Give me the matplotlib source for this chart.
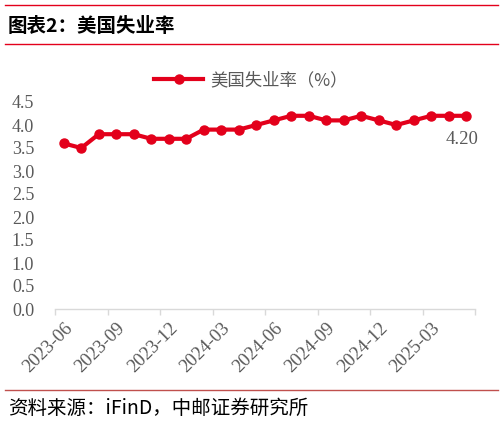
import matplotlib
matplotlib.use("Agg")
import matplotlib.pyplot as plt
from matplotlib.lines import Line2D

plt.rcParams['font.family'] = ['Noto Sans CJK SC', 'DejaVu Sans']

# 美国失业率（%），月度
months = ['2023-06', '2023-07', '2023-08', '2023-09', '2023-10', '2023-11',
          '2023-12', '2024-01', '2024-02', '2024-03', '2024-04', '2024-05',
          '2024-06', '2024-07', '2024-08', '2024-09', '2024-10', '2024-11',
          '2024-12', '2025-01', '2025-02', '2025-03', '2025-04', '2025-05']
unemp = [3.6, 3.5, 3.8, 3.8, 3.8, 3.7, 3.7, 3.7, 3.9, 3.9, 3.9, 4.0,
         4.1, 4.2, 4.2, 4.1, 4.1, 4.2, 4.1, 4.0, 4.1, 4.2, 4.2, 4.2]
yticks = [0.0, 0.5, 1.0, 1.5, 2.0, 2.5, 3.0, 3.5, 4.0, 4.5]

red = '#E3001B'
gray = '#595959'
serif = 'Liberation Serif'

W, H = 504, 426
fig = plt.figure(figsize=(W / 100, H / 100), dpi=100)

ax = fig.add_axes([55 / W, 1 - 309 / H, (475 - 55) / W, (309 - 102) / H])
x = list(range(len(months)))
ax.plot(x, unemp, color=red, lw=3, marker='o', ms=6.5, solid_joinstyle='round')

ax.set_xlim(-0.5, len(months) - 0.5)
ax.set_ylim(0, 4.5)
ax.set_yticks(yticks)
ax.set_yticklabels([f'{v:.1f}' for v in yticks], fontfamily=serif, fontsize=13, color=gray)
ax.tick_params(axis='y', length=0, pad=15)

# 刻度线在分类边界，标签在分类中心
ax.set_xticks([i - 0.5 for i in range(0, len(months) + 1, 3)])
ax.set_xticklabels([])
ax.tick_params(axis='x', which='major', length=4, color='#d9d9d9', width=1)
ax.set_xticks(x[::3], minor=True)
ax.set_xticklabels(months[::3], minor=True, rotation=45, ha='right', va='top',
                   rotation_mode='anchor', fontfamily=serif, fontsize=13.5, color=gray)
ax.tick_params(axis='x', which='minor', length=0, pad=8)

for s in ['top', 'right', 'left']:
    ax.spines[s].set_visible(False)
ax.spines['bottom'].set_color('#d9d9d9')
ax.spines['bottom'].set_linewidth(1)

ax.annotate(f'{unemp[-1]:.2f}', xy=(x[-1], unemp[-1]), xytext=(-3, -11),
            textcoords='offset points', ha='center', va='top',
            fontfamily=serif, fontsize=13.5, color=gray)

handle = Line2D([], [], color=red, lw=3, marker='o', ms=6.5)
ax.legend([handle], ['美国失业率（%）'], loc='center', bbox_to_anchor=(251 / W, 1 - 80 / H),
          bbox_transform=fig.transFigure, frameon=False, handlelength=2.8,
          prop={'size': 12.5, 'family': ['Noto Sans CJK SC']},
          labelcolor=gray, handletextpad=0.4)

# 标题与来源
fig.add_artist(Line2D([5 / W, 498 / W], [1 - 5 / H, 1 - 5 / H], color=red, lw=1))
fig.add_artist(Line2D([5 / W, 498 / W], [1 - 44 / H, 1 - 44 / H], color=red, lw=1))
fig.text(8 / W, 1 - 26 / H, '图表2：美国失业率', fontsize=14, fontweight='bold',
         color='black', va='center', ha='left')
fig.add_artist(Line2D([5 / W, 498 / W], [1 - 390 / H, 1 - 390 / H], color='#C0504D', lw=1))
fig.text(8 / W, 1 - 408 / H, '资料来源：iFinD，中邮证券研究所', fontsize=14,
         color='black', va='center', ha='left')

fig.savefig('out.png', dpi=100)
